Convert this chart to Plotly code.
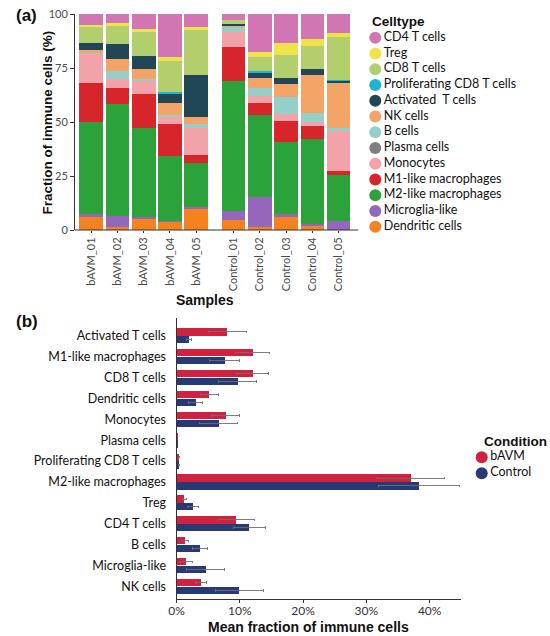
import plotly.graph_objects as go

# ---- panel (a): composition per sample (%) ----
bavm_samples = ["bAVM_01", "bAVM_02", "bAVM_03", "bAVM_04", "bAVM_05"]
control_samples = ["Control_01", "Control_02", "Control_03", "Control_04", "Control_05"]

# values: bAVM_01..05 then Control_01..05
dendritic = [6.2, 1.5, 4.9, 4.0, 9.6, 4.6, 1.5, 6.2, 1.8, 0.0]
microglia = [1.0, 5.0, 1.0, 0.3, 1.0, 4.2, 13.9, 1.0, 1.0, 4.3]
m2_macro = [42.8, 51.8, 41.3, 30.0, 20.3, 60.3, 37.8, 33.5, 39.3, 21.3]
m1_macro = [18.2, 7.3, 15.6, 14.9, 3.8, 15.8, 5.8, 9.9, 6.0, 1.9]
monocytes = [13.6, 4.3, 6.2, 3.0, 12.7, 6.9, 3.2, 3.1, 2.1, 18.3]
plasma = [0, 0, 0, 0, 0, 0, 0, 0, 0, 0]
b_cells = [0.3, 3.7, 1.0, 1.0, 1.7, 2.0, 3.7, 8.0, 3.8, 1.3]
nk_cells = [1.2, 5.4, 4.4, 5.8, 3.1, 1.1, 4.3, 6.0, 17.8, 21.1]
activated_t = [3.4, 7.1, 6.2, 3.8, 19.4, 0.5, 2.6, 2.8, 2.7, 0.9]
prolif_cd8 = [0, 0, 0, 1.1, 0, 0, 0.8, 0, 0, 0.3]
cd8_t = [7.4, 8.3, 11.2, 14.3, 21.0, 1.8, 6.3, 10.5, 10.7, 19.8]
treg = [1.0, 1.3, 1.1, 1.7, 1.5, 0.0, 2.4, 5.4, 3.1, 1.8]
cd4_t = [4.9, 4.3, 7.1, 20.1, 5.9, 2.8, 17.7, 13.6, 11.7, 9.0]

# bottom-to-top stacking order
stack = [
    ("Dendritic cells", dendritic, "#F3821F"),
    ("Microglia-like", microglia, "#9467BD"),
    ("M2-like macrophages", m2_macro, "#2CA33A"),
    ("M1-like macrophages", m1_macro, "#D7252C"),
    ("Monocytes", monocytes, "#F2A2A9"),
    ("Plasma cells", plasma, "#7F7F7F"),
    ("B cells", b_cells, "#95CFC7"),
    ("NK cells", nk_cells, "#F4A467"),
    ("Activated  T cells", activated_t, "#214656"),
    ("Proliferating CD8 T cells", prolif_cd8, "#1CB6D3"),
    ("CD8 T cells", cd8_t, "#B3CE6D"),
    ("Treg", treg, "#EFE24A"),
    ("CD4 T cells", cd4_t, "#D276B3"),
]

# ---- panel (b): mean fraction per condition ----
cell_types_b = ["Activated T cells", "M1-like macrophages", "CD8 T cells", "Dendritic cells",
                "Monocytes", "Plasma cells", "Proliferating CD8 T cells", "M2-like macrophages",
                "Treg", "CD4 T cells", "B cells", "Microglia-like", "NK cells"]
bavm_mean = [8.0, 12.05, 12.05, 5.2, 7.8, 0.05, 0.2, 37.0, 1.25, 9.4, 1.4, 1.55, 3.85]
bavm_err = [3.0, 2.7, 2.5, 1.4, 2.2, 0.02, 0.25, 5.4, 0.3, 2.9, 0.55, 0.95, 0.9]
control_mean = [1.9, 7.6, 9.7, 3.0, 6.7, 0.05, 0.35, 38.3, 2.6, 11.5, 3.7, 4.6, 9.9]
control_err = [0.4, 2.4, 3.0, 1.1, 3.0, 0.02, 0.1, 6.4, 0.9, 2.5, 1.2, 3.0, 3.8]
conditions = ["bAVM", "Control"]
condition_colors = ["#D2213F", "#283A76"]
pct_ticks = [0, 10, 20, 30, 40]

W, H = 550, 636
LBL = "Lato"
TTL = "Liberation Sans"


def px(v):
    return v / W


def py(v):
    return 1 - v / H


fig = go.Figure()

for name, vals, col in stack:
    fig.add_trace(go.Bar(x=bavm_samples, y=vals[:5], marker=dict(color=col, line=dict(width=0)),
                         xaxis="x", yaxis="y", showlegend=False, name=name))
    fig.add_trace(go.Bar(x=control_samples, y=vals[5:], marker=dict(color=col, line=dict(width=0)),
                         xaxis="x2", yaxis="y", showlegend=False, name=name))

# celltype legend drawn as markers on a hidden axis
legend_names = [s[0] for s in stack][::-1]
legend_cols = [s[2] for s in stack][::-1]
fig.add_trace(go.Scatter(x=[0] * len(legend_names), y=list(range(len(legend_names))),
                         mode="markers+text", text=legend_names, textposition="middle right",
                         textfont=dict(family=LBL, size=12.5, color="#111"),
                         marker=dict(size=12, color=legend_cols), cliponaxis=False,
                         xaxis="x3", yaxis="y3", showlegend=False, hoverinfo="skip"))

# panel (b) bars, one offset group per condition so they sit side by side
for i, (cond, means, errs) in enumerate([("bAVM", bavm_mean, bavm_err),
                                          ("Control", control_mean, control_err)]):
    fig.add_trace(go.Bar(
        y=cell_types_b, x=means, orientation="h", name=cond, offsetgroup=cond,
        marker=dict(color=condition_colors[i], line=dict(width=0)),
        width=0.35, offset=-0.36 if i == 0 else 0.01,
        error_x=dict(type="data", array=errs, color="#6f6f6f", thickness=0.9, width=1.2),
        xaxis="x5", yaxis="y5", showlegend=False))

fig.add_trace(go.Scatter(x=[0, 0], y=[0, 1], mode="markers+text", text=conditions,
                         textposition="middle right",
                         textfont=dict(family=LBL, size=12.5, color="#111"),
                         marker=dict(size=12, color=condition_colors), cliponaxis=False,
                         xaxis="x4", yaxis="y4", showlegend=False, hoverinfo="skip"))

axis_col = "#333333"
tick_font = dict(family=LBL, size=11, color="#4a4a4a")

fig.update_layout(
    width=W, height=H, margin=dict(l=0, r=0, t=0, b=0),
    paper_bgcolor="white", plot_bgcolor="white", barmode="stack", bargap=0.1,
    showlegend=False,
    xaxis=dict(domain=[px(68), px(204.3)], range=[-0.62, 4.5], type="category",
               tickangle=-90, ticks="outside", ticklen=2, tickcolor=axis_col,
               tickfont=tick_font, showgrid=False, anchor="y"),
    xaxis2=dict(domain=[px(215.7), px(355.4)], range=[-0.5, 4.75], type="category",
                tickangle=-90, ticks="outside", ticklen=2, tickcolor=axis_col,
                tickfont=tick_font, showgrid=False, anchor="y"),
    yaxis=dict(domain=[py(230), py(14)], range=[0, 100], tickvals=[0, 25, 50, 75, 100],
               ticks="outside", ticklen=4, tickcolor=axis_col, showline=True,
               linecolor=axis_col, linewidth=1, tickfont=tick_font, showgrid=False,
               zeroline=False, anchor="x", automargin=False),
    xaxis3=dict(domain=[px(362.7), 1], range=[-1, 17.73], visible=False, anchor="y3"),
    yaxis3=dict(domain=[py(234.6), py(29.8)], range=[12.5, -0.5], visible=False, anchor="x3"),
    xaxis4=dict(domain=[px(470.7), 1], range=[-1, 6.93], visible=False, anchor="y4"),
    yaxis4=dict(domain=[py(481.3), py(449.3)], range=[1.5, -0.5], visible=False, anchor="x4"),
    xaxis5=dict(domain=[px(171), px(460)], range=[0, 45], tickvals=pct_ticks,
                ticktext=[f"{v}%" for v in pct_ticks], ticks="outside", ticklen=3,
                ticklabelstandoff=-2, tickcolor=axis_col, showline=True, linecolor=axis_col,
                linewidth=1, showgrid=False, zeroline=False,
                tickfont=dict(family=LBL, size=12, color="#333"), anchor="y5"),
    yaxis5=dict(domain=[py(599), py(318)], range=[12.6, -0.85], type="category",
                ticks="", showline=True, linecolor=axis_col, linewidth=1, showgrid=False,
                tickfont=dict(family=LBL, size=12.5, color="#111"), ticklabelstandoff=7,
                anchor="x5", automargin=False),
)

# continuous baseline under both facets
fig.add_shape(type="line", xref="paper", yref="paper", x0=px(68), x1=px(355.4),
              y0=py(230), y1=py(230), line=dict(color=axis_col, width=1))

ann = [
    dict(text="<b>(a)</b>", x=px(6), y=py(16), size=17, xanchor="left"),
    dict(text="<b>(b)</b>", x=px(6), y=py(321), size=17, xanchor="left"),
    dict(text="<b>Samples</b>", x=px(200), y=py(300), size=14, xanchor="center"),
    dict(text="<b>Mean fraction of immune cells</b>", x=px(305), y=py(627), size=14,
         xanchor="center"),
    dict(text="<b>Celltype</b>", x=px(367), y=py(22), size=13.5, xanchor="left"),
    dict(text="<b>Condition</b>", x=px(481), y=py(441), size=13.5, xanchor="left"),
]
for a in ann:
    fig.add_annotation(text=a["text"], x=a["x"], y=a["y"], xref="paper", yref="paper",
                       xanchor=a["xanchor"], yanchor="middle", showarrow=False,
                       font=dict(family=TTL, size=a["size"], color="#111"))
fig.add_annotation(text="<b>Fraction of immune cells (%)</b>", x=px(40), y=py(122),
                   xref="paper", yref="paper", textangle=-90, showarrow=False,
                   xanchor="center", yanchor="middle",
                   font=dict(family=TTL, size=13.5, color="#111"))

# drop the page's default body margin so the figure fills the window exactly
fig.write_html("out.html", config={"displayModeBar": False},
               post_script="document.body.style.margin='0';document.body.style.overflow='hidden';")
